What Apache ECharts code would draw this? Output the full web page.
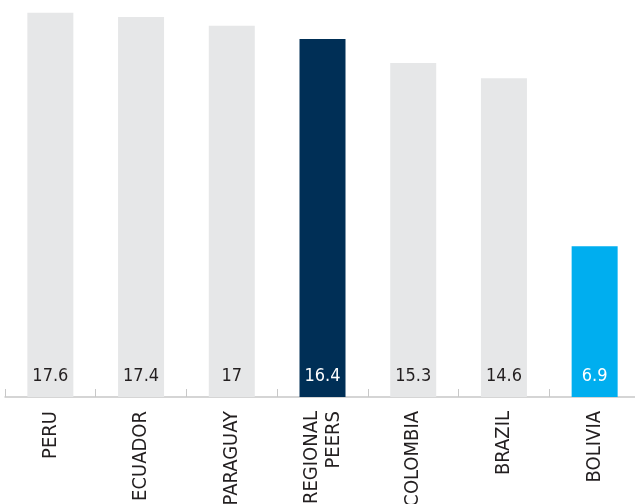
<!DOCTYPE html>
<html>
<head>
<meta charset="utf-8">
<script src="https://cdn.jsdelivr.net/npm/echarts@6/dist/echarts.min.js"></script>
<style>
  html, body { margin: 0; padding: 0; background: #ffffff; }
  #chart { width: 635px; height: 504px; }
</style>
</head>
<body>
<div id="chart"></div>
<script>
// Countries compared, left to right
var categories = ['PERU', 'ECUADOR', 'PARAGUAY', 'REGIONAL\nPEERS', 'COLOMBIA', 'BRAZIL', 'BOLIVIA'];
var values = [17.6, 17.4, 17, 16.4, 15.3, 14.6, 6.9];
var barColors = ['#e6e7e8', '#e6e7e8', '#e6e7e8', '#002f56', '#e6e7e8', '#e6e7e8', '#00aeef'];
var labelColors = ['#231f20', '#231f20', '#231f20', '#ffffff', '#231f20', '#231f20', '#ffffff'];

var FONT = "'Liberation Sans Narrow', 'DejaVu Sans Condensed', 'Arial Narrow', sans-serif";

var chart = echarts.init(document.getElementById('chart'), null, { renderer: 'canvas' });

chart.setOption({
  animation: false,
  // plot area runs slightly past the right edge of the canvas
  grid: { left: 5, width: 635, top: 4, bottom: 107, containLabel: false, outerBoundsMode: 'none' },
  xAxis: {
    type: 'category',
    data: categories,
    boundaryGap: true,
    axisLine: { show: true, lineStyle: { color: '#c8c8c8', width: 1.5 } },
    axisTick: { show: true, inside: true, length: 8, alignWithLabel: false, lineStyle: { color: '#c8c8c8', width: 1 } },
    axisLabel: {
      rotate: 90,
      margin: 14,
      interval: 0,
      color: '#231f20',
      fontFamily: FONT,
      fontSize: 20,
      lineHeight: 22
    }
  },
  yAxis: {
    type: 'value',
    min: 0,
    max: 18,
    show: false,
    splitLine: { show: false }
  },
  series: [{
    type: 'bar',
    barWidth: 46,
    data: values.map(function (v, i) {
      return {
        value: v,
        itemStyle: { color: barColors[i] },
        label: { color: labelColors[i] }
      };
    }),
    label: {
      show: true,
      position: 'insideBottom',
      distance: 12,
      fontFamily: FONT,
      fontSize: 18,
      formatter: function (p) { return String(p.value); }
    }
  }]
});
</script>
</body>
</html>
